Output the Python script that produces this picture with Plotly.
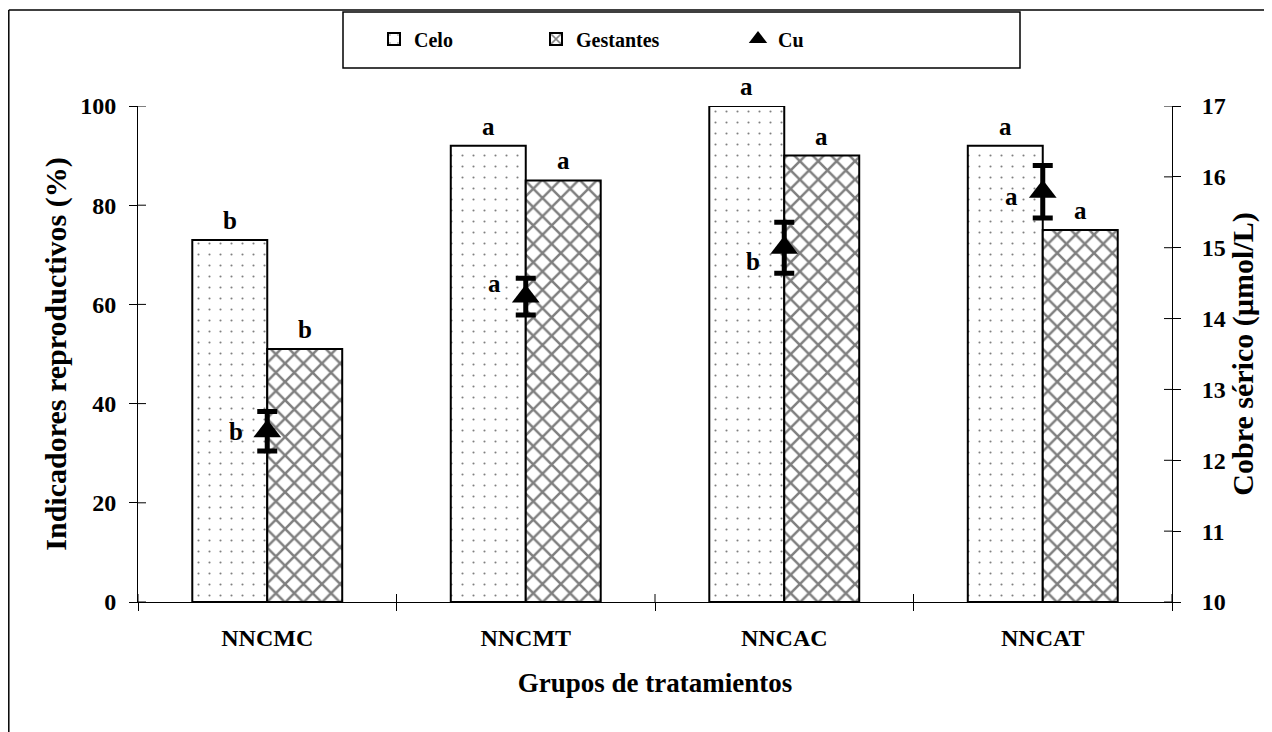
import plotly.graph_objects as go

# ---- data ----
categories = ["NNCMC", "NNCMT", "NNCAC", "NNCAT"]
celo = [73, 92, 100, 92]
gestantes = [51, 85, 90, 75]
cu = [12.41, 14.31, 15.0, 15.79]
cu_err = [0.28, 0.26, 0.36, 0.37]
celo_letters = ["b", "a", "a", "a"]
gest_letters = ["b", "a", "a", "a"]
cu_letters = ["b", "a", "b", "a"]
cu_letter_y = [12.40, 14.50, 14.80, 15.72]
left_ticks = [0, 20, 40, 60, 80, 100]
right_ticks = [10, 11, 12, 13, 14, 15, 16, 17]

FONT = "Liberation Serif, Times New Roman, serif"
OFF = 8  # page body margin
W, H = 1264, 724
ML, MT = 130, 98
PW, PH = 1034, 496
MR = W - ML - PW
MB = H - MT - PH

def px_x(p):  # screen px -> paper
    return (p - OFF - ML) / PW

def px_y(p):
    return 1 + (MT + OFF - p) / PH

def bold(size):
    return dict(family=FONT, size=size, color="black", weight="bold")

fig = go.Figure()

fig.add_trace(go.Bar(
    name="Celo", x=categories, y=celo,
    marker=dict(color="white", line=dict(color="black", width=2),
                pattern=dict(shape=".", fgcolor="black", bgcolor="white",
                             size=11, solidity=0.03)),
    legend="legend",
))
fig.add_trace(go.Bar(
    name="Gestantes", x=categories, y=gestantes,
    marker=dict(color="white", line=dict(color="black", width=2),
                pattern=dict(shape="x", fgcolor="black", bgcolor="white",
                             size=13, solidity=0.35)),
    legend="legend2",
))
fig.add_trace(go.Scatter(
    name="Cu", x=categories, y=cu, yaxis="y2", mode="markers",
    marker=dict(symbol="triangle-up", color="black", size=24),
    error_y=dict(type="data", array=cu_err, visible=True, color="black",
                 thickness=5, width=10),
    legend="legend3",
))

annotations = []
n = len(categories)
off = 0.145
for i in range(n):
    annotations.append(dict(x=i - off, y=celo[i], xref="x", yref="y",
                            text=celo_letters[i], showarrow=False,
                            yanchor="bottom", yshift=4, font=bold(25)))
    annotations.append(dict(x=i + off, y=gestantes[i], xref="x", yref="y",
                            text=gest_letters[i], showarrow=False,
                            yanchor="bottom", yshift=4, font=bold(25)))
    annotations.append(dict(x=i, y=cu_letter_y[i], xref="x", yref="y2",
                            text=cu_letters[i], showarrow=False,
                            xshift=-31, font=bold(25)))

shapes = []
tl = 8
for v in left_ticks:
    shapes.append(dict(type="line", xref="paper", yref="y", x0=0, x1=tl / PW,
                       y0=v, y1=v, line=dict(color="black", width=1)))
for v in right_ticks:
    shapes.append(dict(type="line", xref="paper", yref="y2", x0=1 - tl / PW, x1=1,
                       y0=v, y1=v, line=dict(color="black", width=1)))
for b in range(n + 1):
    shapes.append(dict(type="line", xref="x", yref="paper", x0=b - 0.5, x1=b - 0.5,
                       y0=0, y1=tl / PH, line=dict(color="black", width=1)))
# legend box
shapes.append(dict(type="rect", xref="paper", yref="paper",
                   x0=px_x(343), x1=px_x(1020), y0=px_y(68), y1=px_y(12),
                   line=dict(color="black", width=1.5), fillcolor="rgba(0,0,0,0)"))
# outer frame (top and left edges)
shapes.append(dict(type="line", xref="paper", yref="paper",
                   x0=px_x(8.8), x1=px_x(1290), y0=px_y(10), y1=px_y(10),
                   line=dict(color="black", width=1.5)))
shapes.append(dict(type="line", xref="paper", yref="paper",
                   x0=px_x(8.8), x1=px_x(8.8), y0=px_y(10), y1=px_y(760),
                   line=dict(color="black", width=1.5)))

legfont = bold(20)
ly = px_y(39)

fig.update_layout(
    width=W, height=H, autosize=False,
    margin=dict(l=ML, r=MR, t=MT, b=MB),
    paper_bgcolor="white", plot_bgcolor="white",
    font=bold(22),
    barmode="group", bargap=0.42, bargroupgap=0,
    showlegend=True,
    legend=dict(x=px_x(374), y=ly, xanchor="left", yanchor="middle",
                font=legfont, bgcolor="rgba(0,0,0,0)", itemwidth=30),
    legend2=dict(x=px_x(536), y=ly, xanchor="left", yanchor="middle",
                 font=legfont, bgcolor="rgba(0,0,0,0)", itemwidth=30),
    legend3=dict(x=px_x(738), y=ly, xanchor="left", yanchor="middle",
                 font=legfont, bgcolor="rgba(0,0,0,0)", itemwidth=30),
    xaxis=dict(
        type="category", range=[-0.5, n - 0.5],
        showline=True, linecolor="black", linewidth=1,
        ticks="outside", ticklen=tl, tickcolor="black", tickwidth=1,
        tickson="boundaries", showgrid=False, zeroline=False,
        tickfont=bold(24), ticklabelstandoff=14,
        title=dict(text="Grupos de tratamientos", standoff=23, font=bold(27)),
    ),
    yaxis=dict(
        range=[0, 100], tickvals=left_ticks,
        showline=True, linecolor="black", linewidth=1,
        ticks="outside", ticklen=tl, tickcolor="black", tickwidth=1,
        showgrid=False, zeroline=False,
        tickfont=bold(24), ticklabelstandoff=8,
        title=dict(text="Indicadores reproductivos (%)", standoff=4, font=bold(30)),
    ),
    yaxis2=dict(
        range=[10, 17], tickvals=right_ticks, overlaying="y", side="right",
        showline=True, linecolor="black", linewidth=1,
        ticks="outside", ticklen=tl, tickcolor="black", tickwidth=1,
        showgrid=False, zeroline=False,
        tickfont=bold(24), ticklabelstandoff=16,
        title=dict(text="Cobre sérico (µmol/L)", standoff=6, font=bold(30)),
    ),
    annotations=annotations,
    shapes=shapes,
)

fig.write_html("out.html")
